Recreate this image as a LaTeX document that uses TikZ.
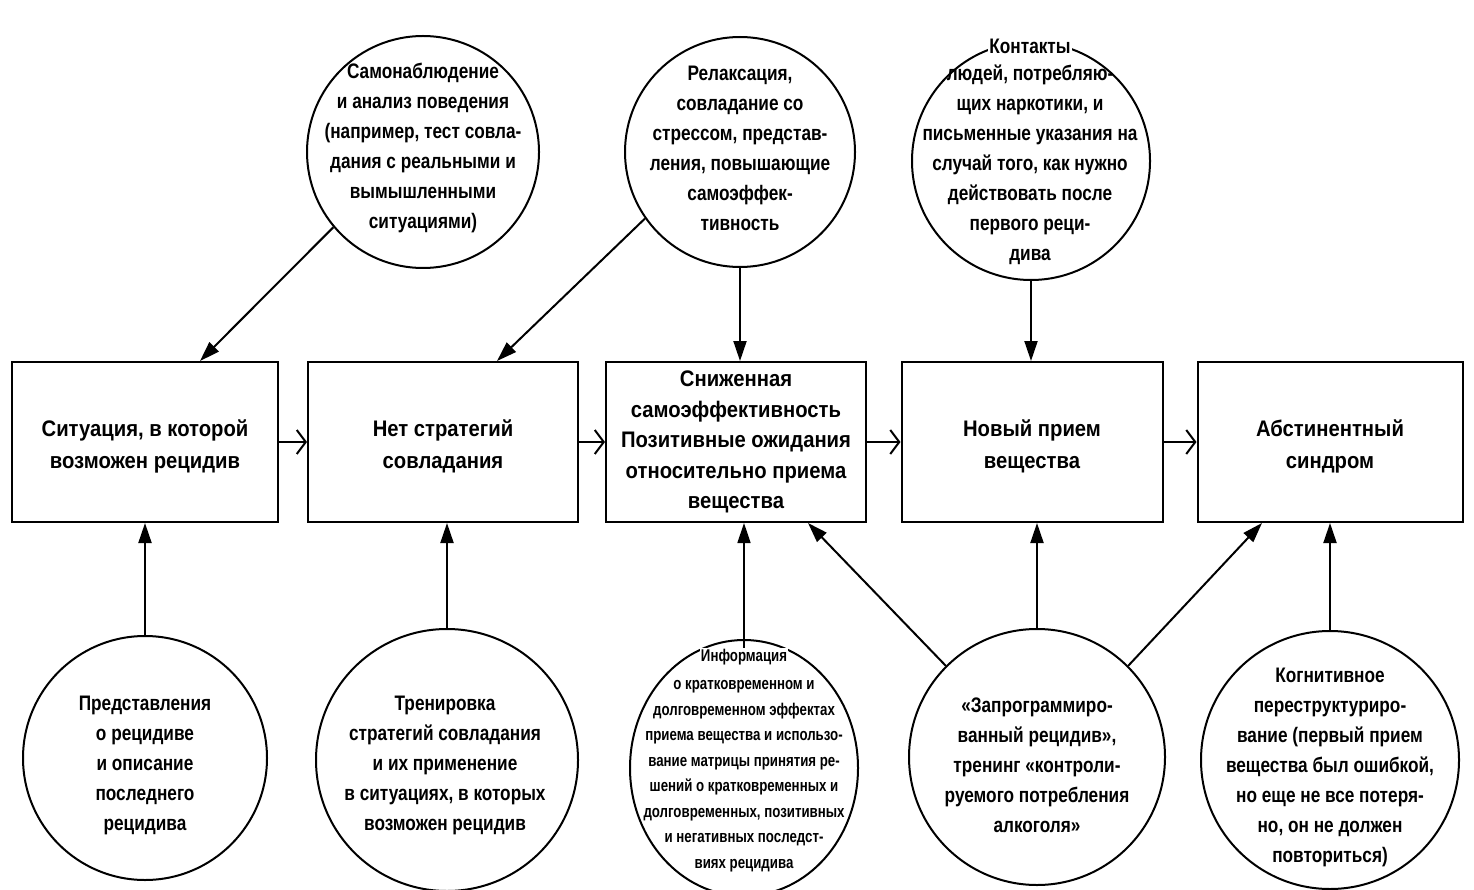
\documentclass[tikz,border=0pt]{standalone}
\usepackage{fontspec}
\setmainfont[FakeStretch=0.82]{Liberation Sans}
\newfontfamily\boxfam[FakeStretch=0.90]{Liberation Sans}
\newfontfamily\narrowfam[FakeStretch=0.78]{Liberation Sans}
\usetikzlibrary{arrows.meta,shapes.geometric}
\tikzset{
  box/.style={draw, line width=2pt, minimum height=160pt, inner sep=0pt, align=center,
    font=\boxfam\bfseries\fontsize{22.5}{30.5}\selectfont},
  boxtxt/.style={inner sep=0pt, align=center, font=\boxfam\bfseries\fontsize{22.5}{32}\selectfont},
  circ/.style={draw, circle, line width=2pt, inner sep=0pt},
  oval/.style={draw, ellipse, line width=2pt, inner sep=0pt},
  txt/.style={align=center, inner sep=0pt, font=\bfseries\fontsize{21}{30}\selectfont},
  smalltxt/.style={align=center, inner sep=0pt, font=\narrowfam\bfseries\fontsize{17}{25.5}\selectfont},
  tri/.style={line width=2pt, -{Triangle[length=20pt,width=13pt]}},
  barb/.style={line width=2pt, -{Straight Barb[length=9pt,width=24pt,line width=2pt]}}
}
\begin{document}
\begin{tikzpicture}[x=1pt,y=-1pt]
\useasboundingbox (0,0) rectangle (1474,890);
\fill[white] (0,0) rectangle (1474,890);
% boxes
\node[box, minimum width=266pt] (b1) at (145,442) {};
\node[boxtxt] (l1) at ([yshift=-4pt]b1.center) {Ситуация, в которой\\возможен рецидив};
\node[box, minimum width=270pt] (b2) at (443,442) {};
\node[boxtxt] (l2) at ([yshift=-4pt]b2.center) {Нет стратегий\\совладания};
\node[box, minimum width=260pt] (b3) at (736,442) {Сниженная\\самоэффективность\\Позитивные ожидания\\относительно приема\\вещества};
\node[box, minimum width=261pt] (b4) at (1032,442) {};
\node[boxtxt] (l4) at ([yshift=-4pt]b4.center) {Новый прием\\вещества};
\node[box, minimum width=265pt] (b5) at (1330,442) {};
\node[boxtxt] (l5) at ([yshift=-4pt]b5.center) {Абстинентный\\синдром};
% top circles
\node[circ, minimum size=232pt] (c1) at (423,152) {};
\node[txt] (t1) at (423,148) {Самонаблюдение\\и анализ поведения\\(например, тест совла-\\дания с реальными и\\вымышленными\\ситуациями)};
\node[circ, minimum size=230pt] (c2) at (740,152) {};
\node[txt] (t2) at (740,148) {Релаксация,\\совладание со\\стрессом, представ-\\ления, повышающие\\самоэффек-\\тивность};
\node[circ, minimum size=238pt] (c3) at (1031,161) {};
\node[txt, fill=white, inner sep=1pt] (t3a) at (1030,46) {Контакты};
\node[txt] (t3) at (1030,165) {людей, потребляю-\\щих наркотики, и\\письменные указания на\\случай того, как нужно\\действовать после\\первого реци-\\дива};
% bottom circles
\node[circ, minimum size=244pt] (k1) at (145,758) {};
\node[txt] (u1) at (145,765) {Представления\\о рецидиве\\и описание\\последнего\\рецидива};
\node[circ, minimum size=262pt] (k2) at (447,760) {};
\node[txt] (u2) at (445,765) {Тренировка\\стратегий совладания\\и их применение\\в ситуациях, в которых\\возможен рецидив};
\node[oval, minimum width=228pt, minimum height=256pt] (k3) at (744,768) {};
\node[smalltxt, fill=white, inner sep=1pt] (u3a) at (744,657) {Информация};
\node[smalltxt] (u3) at (744,776) {о кратковременном и\\долговременном эффектах\\приема вещества и использо-\\вание матрицы принятия ре-\\шений о кратковременных и\\долговременных, позитивных\\и негативных последст-\\виях рецидива};
\node[circ, minimum size=256pt] (k4) at (1037,757) {};
\node[txt] (u4) at (1037,765) {«Запрограммиро-\\ванный рецидив»,\\тренинг «контроли-\\руемого потребления\\алкоголя»};
\node[circ, minimum size=258pt] (k5) at (1330,760) {};
\node[txt] (u5) at (1330,767) {Когнитивное\\переструктуриро-\\вание (первый прием\\вещества был ошибкой,\\но еще не все потеря-\\но, он не должен\\повториться)};
% horizontal arrows
\draw[barb] (b1.east) -- (b2.west);
\draw[barb] (b2.east) -- (b3.west);
\draw[barb] (b3.east) -- (b4.west);
\draw[barb] (b4.east) -- (b5.west);
% top arrows
\draw[tri] (c1.220) -- ([xshift=55pt]b1.north);
\draw[tri] (c2.215) -- ([xshift=54pt]b2.north);
\draw[tri] (c2.south) -- (c2.south |- b3.north);
\draw[tri] (c3.south) -- (c3.south |- b4.north);
% bottom arrows
\draw[tri] (k1.north) -- (k1.north |- b1.south);
\draw[tri] (k2.north) -- (k2.north |- b2.south);
\draw[tri, line width=1.5pt] (u3a.north) -- (u3a.north |- b3.south);
\draw[tri] (k4.north) -- (k4.north |- b4.south);
\draw[tri] (k5.north) -- (k5.north |- b5.south);
\draw[tri] (k4.135) -- ([xshift=72pt]b3.south);
\draw[tri] (k4.45) -- ([xshift=-68pt]b5.south);
\end{tikzpicture}
\end{document}
